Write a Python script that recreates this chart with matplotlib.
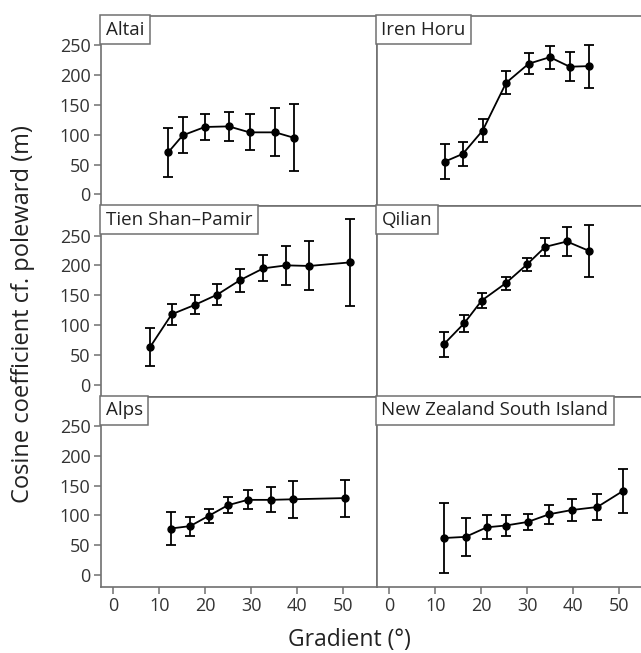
import matplotlib
matplotlib.use("Agg")
import matplotlib.pyplot as plt

plt.rcParams['font.family'] = ['Open Sans', 'DejaVu Sans']

# Panel names, in reading order
regions = ["Altai", "Iren Horu", "Tien Shan\u2013Pamir", "Qilian", "Alps",
           "New Zealand South Island"]

# Gradient bin centres (deg), mean cosine coefficient (m) and error (m)
altai_x = [12.0, 15.1, 19.9, 25.1, 29.6, 35.2, 39.2]
altai_y = [71, 99, 113, 114, 104, 104, 95]
altai_e = [41, 30, 22, 24, 30, 40, 56]

iren_x = [12.1, 16.0, 20.3, 25.4, 30.3, 34.9, 39.2, 43.4]
iren_y = [55, 68, 107, 187, 219, 230, 214, 215]
iren_e = [29, 20, 19, 19, 18, 19, 24, 36]

tien_x = [8.0, 12.7, 17.8, 22.6, 27.5, 32.6, 37.6, 42.6, 51.5]
tien_y = [63, 118, 134, 151, 175, 195, 200, 199, 205]
tien_e = [32, 18, 16, 17, 19, 22, 33, 41, 73]

qilian_x = [11.9, 16.3, 20.1, 25.3, 30.0, 33.9, 38.6, 43.5]
qilian_y = [68, 103, 141, 170, 202, 231, 240, 224]
qilian_e = [21, 14, 12, 11, 11, 15, 24, 43]

alps_x = [12.5, 16.7, 20.7, 24.9, 29.2, 34.2, 39.1, 50.4]
alps_y = [78, 82, 99, 117, 126, 126, 127, 129]
alps_e = [28, 16, 12, 13, 16, 21, 31, 31]

nz_x = [11.8, 16.6, 21.2, 25.3, 30.1, 34.8, 39.7, 45.2, 50.8]
nz_y = [62, 64, 80, 83, 89, 102, 109, 114, 141]
nz_e = [59, 32, 20, 17, 14, 16, 18, 21, 37]

series = [(altai_x, altai_y, altai_e), (iren_x, iren_y, iren_e),
          (tien_x, tien_y, tien_e), (qilian_x, qilian_y, qilian_e),
          (alps_x, alps_y, alps_e), (nz_x, nz_y, nz_e)]

x_ticks = [0, 10, 20, 30, 40, 50]
y_ticks = [0, 50, 100, 150, 200, 250]

fig = plt.figure(figsize=(6.41, 6.53), dpi=100)

spine_col = '#707070'
left_x = [0.1576, 0.5881]
row_y = [0.684, 0.3926, 0.1011]
w, h = 0.4306, 0.2915

lab_fs = 13.5
pad = 0.3
for i, (name, (xs, ys, es)) in enumerate(zip(regions, series)):
    row, col = divmod(i, 2)
    ax = fig.add_axes([left_x[col], row_y[row], w, h])
    ax.errorbar(xs, ys, yerr=es, color='black', marker='o', markersize=5,
                linewidth=1.3, elinewidth=1.3, capsize=3.5, capthick=1.3)
    ax.set_xlim(-2.65, 57.3)
    ax.set_ylim(-20, 299)
    ax.set_xticks(x_ticks)
    ax.set_yticks(y_ticks)
    for s in ax.spines.values():
        s.set_color(spine_col)
        s.set_linewidth(1.2)
    ax.tick_params(direction='out', length=5, width=1.1, color=spine_col,
                   labelsize=13, labelcolor='#333333', pad=2.5)
    if col == 1:
        ax.tick_params(axis='y', left=False, labelleft=False)
    if row < 2:
        ax.tick_params(axis='x', bottom=False, labelbottom=False)
    # label box sits flush in the top-left corner
    ax.annotate(name, xy=(0, 1), xycoords='axes fraction',
                xytext=(pad * lab_fs - 0.8, -pad * lab_fs + 0.8),
                textcoords='offset points', ha='left', va='top',
                fontsize=lab_fs, color='#222222', annotation_clip=False,
                bbox=dict(boxstyle='square,pad=%s' % pad, facecolor='white',
                          edgecolor=spine_col, linewidth=1.1))

fig.text(0.036, 0.519, "Cosine coefficient cf. poleward (m)", rotation=90,
         ha='center', va='center', fontsize=17, color='#222222')
fig.text(0.545, 0.02, "Gradient (\u00b0)", ha='center', va='center',
         fontsize=16.5, color='#222222')

fig.savefig("out.png", dpi=100)
